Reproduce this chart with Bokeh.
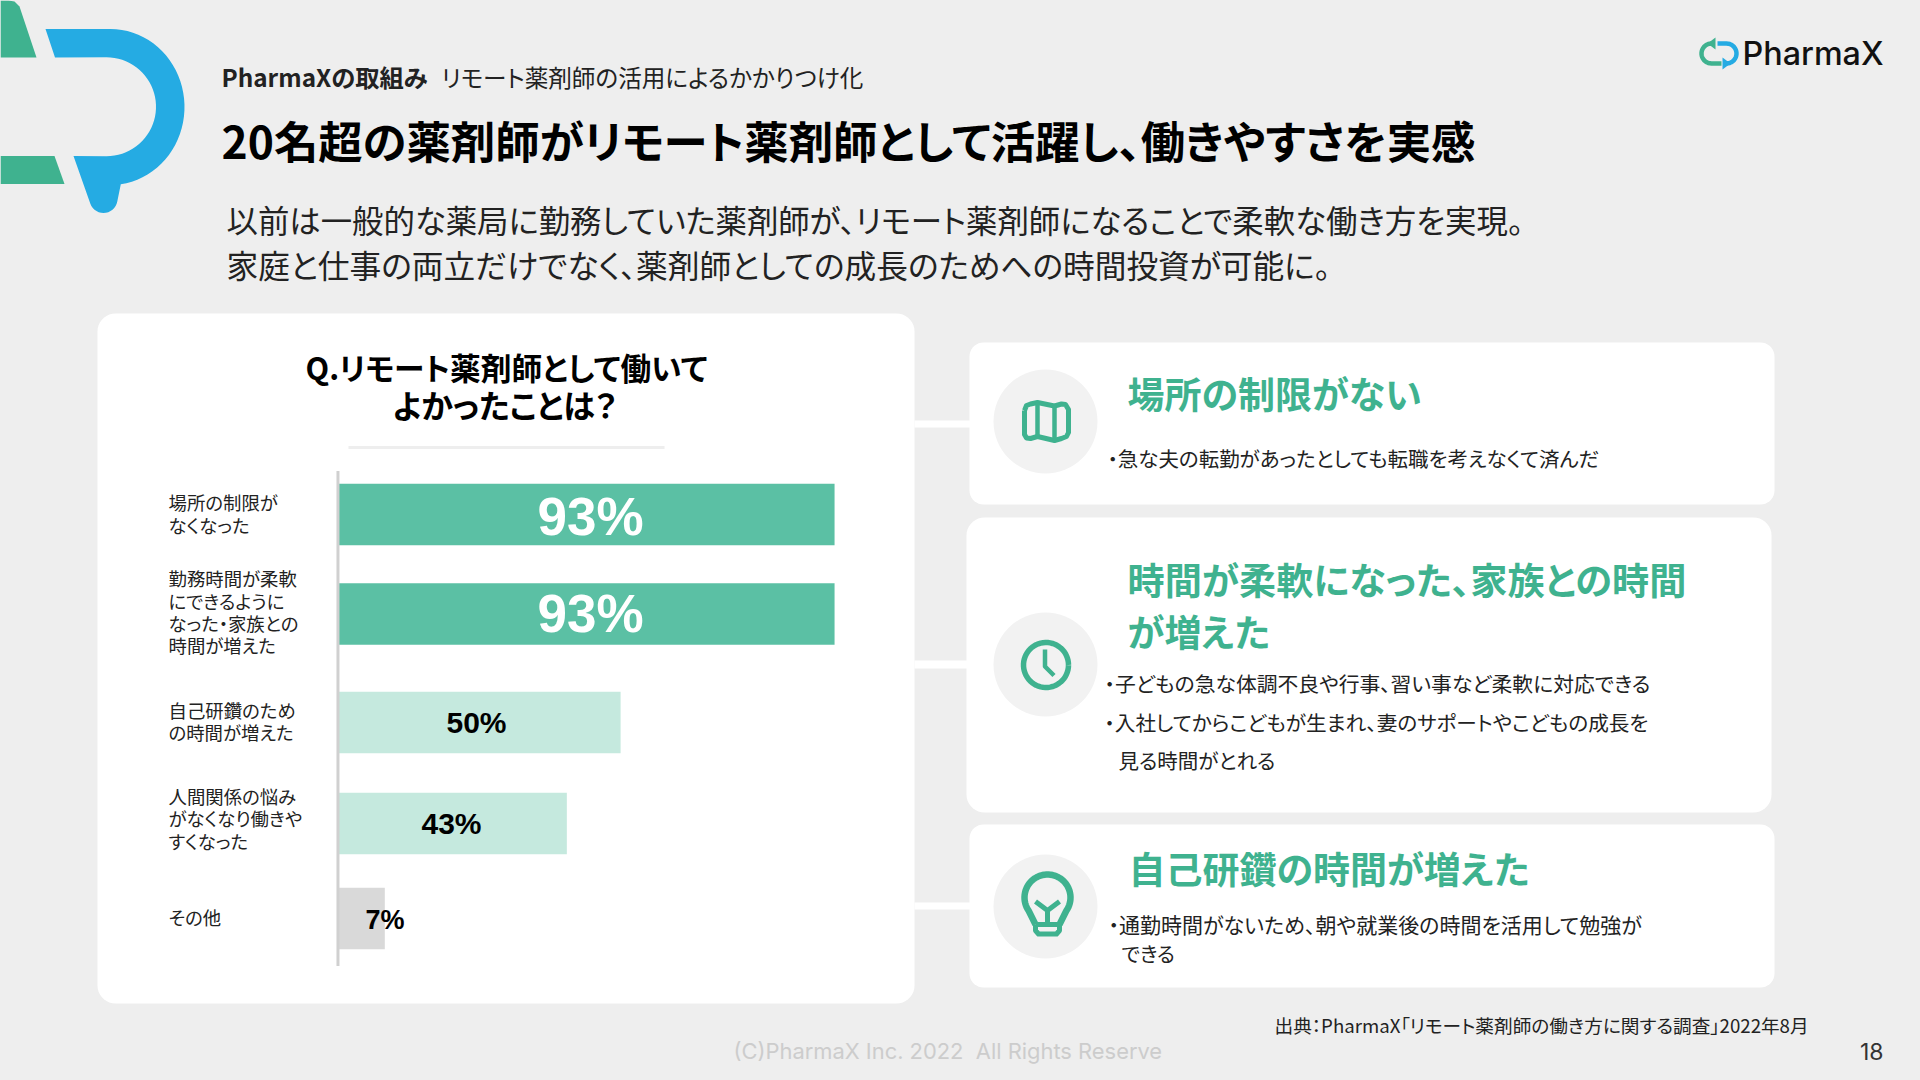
import numpy as np
from bokeh.plotting import figure
from bokeh.models import Range1d
from bokeh.core.properties import value
from bokeh.embed import file_html
from bokeh.resources import INLINE

# ---------- data ----------
categories = [
    ["場所の制限が", "なくなった"],
    ["勤務時間が柔軟", "にできるように", "なった・家族との", "時間が増えた"],
    ["自己研鑽のため", "の時間が増えた"],
    ["人間関係の悩み", "がなくなり働きや", "すくなった"],
    ["その他"],
]
percent_labels = ["93%", "93%", "50%", "43%", "7%"]
bar_lengths = [93.2, 93.2, 53, 42.9, 8.7]   # drawn lengths as seen in the picture
row_positions = [0, 0.985, 2.06, 3.06, 4]
bar_colors = ["#5BC0A4", "#5BC0A4", "#C5E9DE", "#C5E9DE", "#D9D9D9"]

BG, WHITE, GREEN, BLUE = "#EEEEEE", "#FFFFFF", "#3FB28F", "#25ABE3"
CJK = "Noto Sans CJK JP"
W, H = 1904, 1064

p = figure(width=W, height=H, output_backend="svg", toolbar_location=None,
           x_range=Range1d(0, W), y_range=Range1d(H, 0),
           background_fill_color=BG, border_fill_color=BG,
           min_border=0, outline_line_color=None)
p.xaxis.visible = False
p.yaxis.visible = False
p.grid.visible = False

# scales for the bar chart
k = 495 / 93
x0 = -338 / k
p.extra_x_ranges["pct"] = Range1d(x0, x0 + W / k)
p.extra_y_ranges["row"] = Range1d((H - 514) / 101, -514 / 101)


def rrect(x0, y0, x1, y1, r):
    t = np.linspace(0, np.pi / 2, 10)
    xs = np.concatenate([x1 - r + r * np.sin(t), x1 - r + r * np.cos(t),
                         x0 + r - r * np.sin(t), x0 + r - r * np.cos(t)])
    ys = np.concatenate([y0 + r - r * np.cos(t), y1 - r + r * np.sin(t),
                         y1 - r + r * np.cos(t), y0 + r - r * np.sin(t)])
    return xs, ys


def arc(cx, cy, r, a0, a1, n=40, ry=None):
    t = np.radians(np.linspace(a0, a1, n))
    return cx + r * np.cos(t), cy + (ry or r) * np.sin(t)


def card(x0, y0, x1, y1, r=14, color=WHITE):
    xs, ys = rrect(x0, y0, x1, y1, r)
    p.patch(xs, ys, fill_color=color, line_color=None)


def txt(x, y, s, size, color="#111111", font=CJK, style="normal", align="left"):
    p.text([x], [y], text=[s], text_font=value(font), text_font_size=f"{size}px",
           text_font_style=style, text_color=color, text_align=align, text_baseline="middle")


# ---------- big logo ----------
p.patch([0, 8, 14, 19, 36, 0], [0, 0, 1, 6, 57, 57], fill_color=GREEN, line_color=None)
p.patch([0, 54, 64, 0], [155.5, 155.5, 183.5, 183.5], fill_color=GREEN, line_color=None)
ox, oy = arc(110, 106.5, 74, -90, 82, ry=78)
ix, iy = arc(106, 106.25, 49.5, 90, -90)
tx, ty = arc(103, 198.5, 14, 10, 160, 16)
bx = np.concatenate([[45], ox, tx, [73], ix, [54.5]])
by = np.concatenate([[28.5], oy, ty, [155.5], iy, [57]])
p.patch(bx, by, fill_color=BLUE, line_color=None)

# ---------- small logo ----------
lx1, ly1 = arc(1711, 53, 10, 270, 90, 20)
p.line(np.concatenate([[1713], lx1, [1721]]), np.concatenate([[43], ly1, [63]]),
       line_color=GREEN, line_width=4.5)
lx2, ly2 = arc(1726, 53, 10, 90, -90, 20)
p.line(np.concatenate([[1724], lx2, [1717]]), np.concatenate([[63], ly2, [43]]),
       line_color=BLUE, line_width=4.5)
p.patch([1715, 1715, 1707], [37, 49, 43], fill_color=GREEN, line_color=None)
p.patch([1722, 1722, 1730], [57, 69, 63], fill_color=BLUE, line_color=None)
txt(1742, 53, "PharmaX", 32.3, "#111111", "Inter Medium", "normal")

# ---------- header ----------
txt(221, 76, "PharmaXの取組み", 24.3, "#222222", CJK, "bold")
txt(441, 76, "リモート薬剤師の活用によるかかりつけ化", 23.6, "#222222")
txt(221, 139, "20名超の薬剤師がリモート薬剤師として活躍し、働きやすさを実感", 44.4, "#000000", CJK, "bold")
txt(226, 219, "以前は一般的な薬局に勤務していた薬剤師が、リモート薬剤師になることで柔軟な働き方を実現。", 31.4, "#222222")
txt(226, 263, "家庭と仕事の両立だけでなく、薬剤師としての成長のためへの時間投資が可能に。", 31.7, "#222222")

# ---------- cards ----------
for y0, y1 in [(420, 427), (660, 668), (902, 909)]:
    p.quad(left=[914], right=[970], top=[y0], bottom=[y1], fill_color=WHITE, line_color=None)
card(97, 313, 914, 1003, 18)
card(969, 342, 1774, 504)
card(966, 517, 1771, 812, 18)
card(969, 824, 1774, 987)

# ---------- chart ----------
txt(305, 366, "Q.リモート薬剤師として働いて", 30.7, "#000000", CJK, "bold")
txt(392, 403, "よかったことは？", 32, "#000000", CJK, "bold")
p.line([348, 664], [447, 447], line_color="#EEEEEE", line_width=3)

p.hbar(y=row_positions, height=0.61, left=0, right=bar_lengths, fill_color=bar_colors,
       line_color=None, x_range_name="pct", y_range_name="row")
p.segment(x0=[-0.1], x1=[-0.1], y0=[-0.43], y1=[4.47], line_color="#D0D0D0", line_width=3,
          x_range_name="pct", y_range_name="row")

label_lines = [[501, 524], [577, 600, 622, 644], [709, 731], [795, 817, 840], [916]]
for lines, ys in zip(categories, label_lines):
    for s, y in zip(lines, ys):
        txt(168, y, s, 18.4, "#222222")

pct_style = [(590, 516, 53, WHITE), (590, 613, 53, WHITE), (476, 722, 30, "#000000"),
             (451, 823, 30, "#000000"), (384.5, 919, 27, "#000000")]
for s, (x, y, size, c) in zip(percent_labels, pct_style):
    txt(x, y, s, size, c, "Liberation Sans", "bold", "center")

# ---------- right panels ----------
for cy in (421, 664, 906):
    p.circle(x=[1045], y=[cy], radius=52, fill_color="#F2F2F2", line_color=None)

# map icon
mx = [1024, 1026, 1030, 1037, 1054, 1061, 1065, 1068, 1068, 1066, 1061, 1054, 1037, 1030, 1026, 1024, 1024]
my = [410, 405, 403.5, 402, 405.5, 403.5, 404, 409, 432, 436, 438, 440, 436, 438, 437.5, 434, 410]
p.line(mx, my, line_color=GREEN, line_width=5, line_join="round")
p.line([1037, 1037], [402, 436], line_color=GREEN, line_width=4.5)
p.line([1054, 1054], [405.5, 440], line_color=GREEN, line_width=4.5)

# clock icon
cx, cy = arc(1045.5, 664.5, 22.5, 0, 360, 60)
p.line(cx, cy, line_color=GREEN, line_width=5.5)
p.line([1044.5, 1044.5, 1053.5], [649, 666, 675], line_color=GREEN, line_width=4.5, line_join="round")

# bulb icon
bulx, buly = arc(1047, 897, 23, 145, 395, 50)
p.line(np.concatenate([[1035], bulx, [1059]]), np.concatenate([[924], buly, [924]]),
       line_color=GREEN, line_width=6.5, line_join="round")
p.line([1035, 1047, 1059], [901, 910, 901], line_color=GREEN, line_width=5, line_join="round")
p.line([1047, 1047], [910, 922], line_color=GREEN, line_width=5)
p.line([1035, 1035, 1038, 1056, 1059, 1059, 1035], [924, 930, 933.5, 933.5, 930, 924, 924],
       line_color=GREEN, line_width=5, line_join="round")

txt(1127, 392, "場所の制限がない", 37, GREEN, CJK, "bold")
txt(1127, 578, "時間が柔軟になった、家族との時間", 37.2, GREEN, CJK, "bold")
txt(1127, 630, "が増えた", 37, GREEN, CJK, "bold")
txt(1128, 867, "自己研鑽の時間が増えた", 37, GREEN, CJK, "bold")

txt(1107, 457, "・急な夫の転勤があったとしても転職を考えなくて済んだ", 20.5, "#222222")
txt(1104, 682, "・子どもの急な体調不良や行事、習い事など柔軟に対応できる", 20.8, "#222222")
txt(1104, 721, "・入社してからこどもが生まれ、妻のサポートやこどもの成長を", 20.6, "#222222")
txt(1118, 759, "見る時間がとれる", 20.5, "#222222")
txt(1108, 923, "・通勤時間がないため、朝や就業後の時間を活用して勉強が", 21, "#222222")
txt(1121, 953, "できる", 20, "#222222")

# ---------- footer ----------
txt(1274, 1024, "出典：PharmaX「リモート薬剤師の働き方に関する調査」2022年8月", 18.65, "#222222")
txt(733, 1050, "(C)PharmaX Inc. 2022\u00a0 All Rights Reserve", 21.9, "#CCCCCC", "Inter")
txt(1883, 1051, "18", 23, "#333333", "Inter", "normal", "right")

css = '<head><style>html,body{background:#EEEEEE;font-feature-settings:"palt" 1}</style>'
html = file_html(p, INLINE).replace("<head>", css, 1)
open("out.html", "w").write(html)
